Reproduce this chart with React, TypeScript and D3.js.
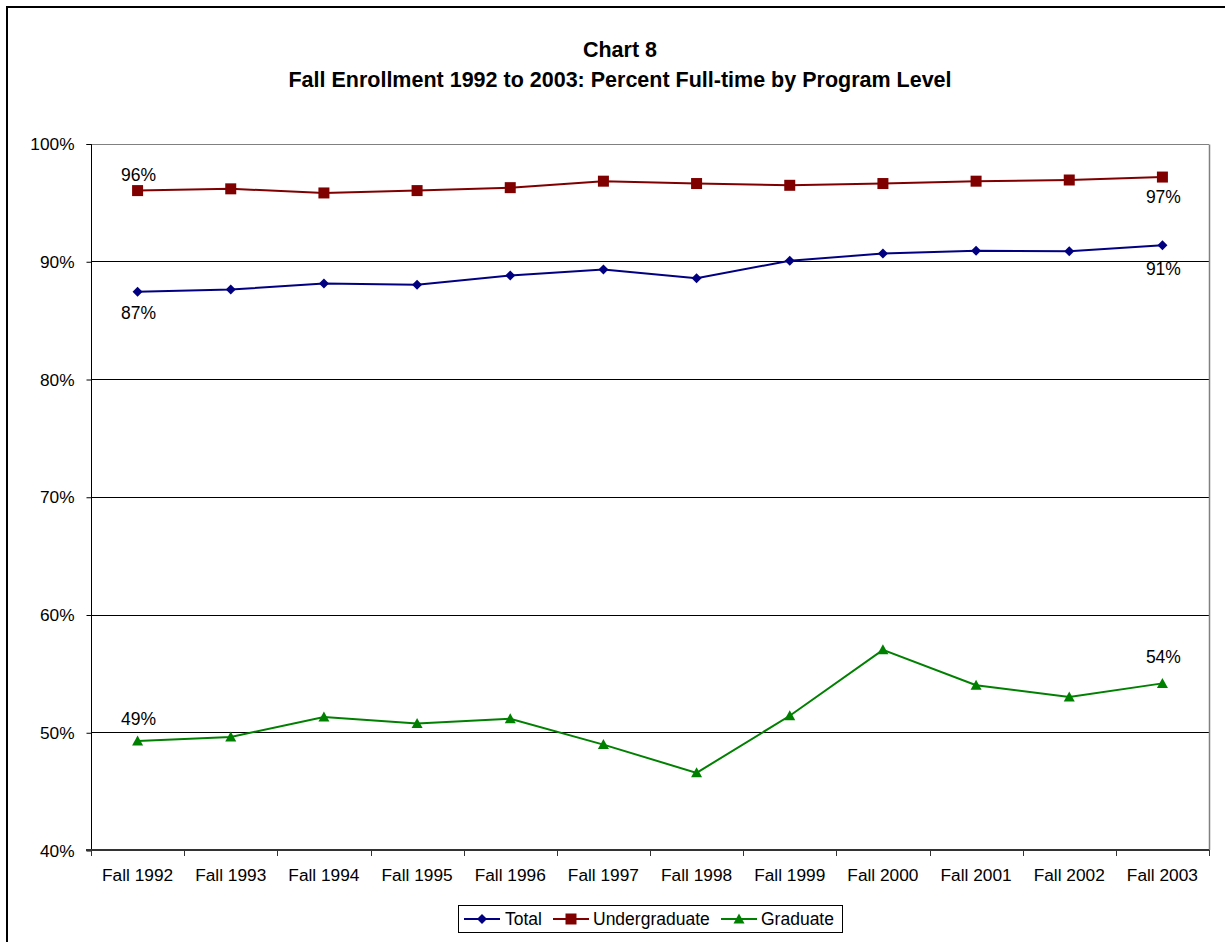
import React, { useEffect, useRef } from 'react';
import * as d3 from 'd3';

const years = ['Fall 1992', 'Fall 1993', 'Fall 1994', 'Fall 1995', 'Fall 1996', 'Fall 1997',
  'Fall 1998', 'Fall 1999', 'Fall 2000', 'Fall 2001', 'Fall 2002', 'Fall 2003'];
const total = [87.4, 87.6, 88.1, 88.0, 88.8, 89.3, 88.55, 90.05, 90.65, 90.9, 90.85, 91.35];
const undergrad = [96.0, 96.15, 95.8, 96.0, 96.25, 96.8, 96.6, 96.45, 96.6, 96.8, 96.9, 97.15];
const graduate = [49.25, 49.6, 51.3, 50.75, 51.15, 48.95, 46.55, 51.4, 57.0, 54.0, 53.0, 54.15];
const yTicks = [40, 50, 60, 70, 80, 90, 100];

const App = () => {
  const ref = useRef(null);

  useEffect(() => {
    const W = 1225;
    const H = 942;
    const left = 91, right = 1209, top = 143.5, bottom = 850;
    const font = 'Liberation Sans, Arial, sans-serif';

    const svg = d3.select(ref.current)
      .append('svg')
      .attr('width', W)
      .attr('height', H)
      .style('position', 'absolute')
      .style('left', 0)
      .style('top', 0)
      .style('font-family', font);

    svg.append('rect').attr('width', W).attr('height', H).attr('fill', '#fff');
    // outer chart border
    svg.append('rect')
      .attr('x', 7).attr('y', 7).attr('width', W + 20).attr('height', H + 20)
      .attr('fill', 'none').attr('stroke', '#000').attr('stroke-width', 2);

    // title
    svg.append('text').attr('x', 620).attr('y', 57).attr('text-anchor', 'middle')
      .attr('font-size', 21.5).attr('font-weight', 'bold').text('Chart 8');
    svg.append('text').attr('x', 620).attr('y', 87).attr('text-anchor', 'middle')
      .attr('font-size', 21.5).attr('font-weight', 'bold')
      .text('Fall Enrollment 1992 to 2003: Percent Full-time by Program Level');

    const x = d3.scaleBand().domain(years).range([left, right]).padding(0);
    const cx = (d) => x(d) + x.bandwidth() / 2;
    const y = d3.scaleLinear().domain([40, 100]).range([bottom, top]);

    // gridlines
    svg.append('g').selectAll('line').data(yTicks.filter(t => t > 40)).enter().append('line')
      .attr('x1', left).attr('x2', right)
      .attr('y1', d => Math.round(y(d)) + 0.5).attr('y2', d => Math.round(y(d)) + 0.5)
      .attr('stroke', d => d === 100 ? '#808080' : '#000').attr('stroke-width', 1);
    // right border of plot
    svg.append('line').attr('x1', right + 0.5).attr('x2', right + 0.5)
      .attr('y1', Math.round(top) + 0.5).attr('y2', bottom)
      .attr('stroke', '#808080').attr('stroke-width', 1.5);

    // y axis
    const yAxis = d3.axisLeft(y).tickValues(yTicks).tickSize(5).tickPadding(8)
      .tickFormat(d => `${d}%`);
    const gy = svg.append('g').attr('transform', `translate(${left + 0.5},0.5)`).call(yAxis);
    gy.select('.domain').attr('stroke', '#000').attr('d', `M-5,${Math.round(top)}H0V${bottom}`);
    gy.selectAll('.tick line').attr('stroke', '#000');
    gy.selectAll('text').attr('font-size', 17.3).attr('font-family', font).attr('fill', '#000')
      .attr('dx', -4);

    // x axis
    const gx = svg.append('g').attr('transform', `translate(0,${bottom})`);
    gx.append('line').attr('x1', left - 5).attr('x2', right).attr('y1', 0).attr('y2', 0)
      .attr('stroke', '#333').attr('stroke-width', 2);
    const bounds = years.map(d => x(d)).concat([right]);
    gx.selectAll('line.tk').data(bounds).enter().append('line').attr('class', 'tk')
      .attr('x1', d => Math.round(d) + 0.5).attr('x2', d => Math.round(d) + 0.5)
      .attr('y1', 0).attr('y2', 6).attr('stroke', '#333').attr('stroke-width', 1);
    gx.selectAll('text').data(years).enter().append('text')
      .attr('x', d => cx(d)).attr('y', 31).attr('text-anchor', 'middle')
      .attr('font-size', 17.3).text(d => d);

    const series = [
      { name: 'Total', values: total, color: '#000080', shape: 'diamond' },
      { name: 'Undergraduate', values: undergrad, color: '#800000', shape: 'square' },
      { name: 'Graduate', values: graduate, color: '#008000', shape: 'triangle' },
    ];

    const marker = (g, shape, color) => {
      if (shape === 'diamond') {
        g.append('path').attr('d', 'M0,-5L5,0L0,5L-5,0Z').attr('fill', color);
      } else if (shape === 'square') {
        g.append('rect').attr('x', -5.5).attr('y', -5.5).attr('width', 11).attr('height', 11)
          .attr('fill', color);
      } else {
        g.append('path').attr('d', 'M0,-5.5L5.5,4.5L-5.5,4.5Z').attr('fill', color);
      }
    };

    const line = d3.line().x((d, i) => cx(years[i])).y(d => y(d));

    series.forEach(s => {
      svg.append('path').datum(s.values).attr('d', line).attr('fill', 'none')
        .attr('stroke', s.color).attr('stroke-width', 2);
      s.values.forEach((v, i) => {
        const g = svg.append('g').attr('transform', `translate(${cx(years[i])},${y(v)})`);
        marker(g, s.shape, s.color);
      });
    });

    // data labels on first and last points
    const labels = [
      { v: undergrad[0], i: 0, dy: -10, text: '96%' },
      { v: undergrad[11], i: 11, dy: 26, text: '97%' },
      { v: total[0], i: 0, dy: 27, text: '87%' },
      { v: total[11], i: 11, dy: 30, text: '91%' },
      { v: graduate[0], i: 0, dy: -16, text: '49%' },
      { v: graduate[11], i: 11, dy: -20, text: '54%' },
    ];
    svg.append('g').selectAll('text').data(labels).enter().append('text')
      .attr('x', d => cx(years[d.i]) + 1).attr('y', d => y(d.v) + d.dy)
      .attr('text-anchor', 'middle').attr('font-size', 17.5).text(d => d.text);

    // legend
    const lg = svg.append('g');
    lg.append('rect').attr('x', 458.5).attr('y', 905.5).attr('width', 384).attr('height', 27)
      .attr('fill', '#fff').attr('stroke', '#000').attr('stroke-width', 1);
    const items = [
      { s: series[0], x0: 464, tx: 505 },
      { s: series[1], x0: 553, tx: 593 },
      { s: series[2], x0: 721, tx: 761 },
    ];
    items.forEach(it => {
      const ly = 919;
      lg.append('line').attr('x1', it.x0).attr('x2', it.x0 + 36).attr('y1', ly).attr('y2', ly)
        .attr('stroke', it.s.color).attr('stroke-width', 2);
      const g = lg.append('g').attr('transform', `translate(${it.x0 + 18},${ly})`);
      marker(g, it.s.shape, it.s.color);
      lg.append('text').attr('x', it.tx).attr('y', ly + 6).attr('font-size', 17.5)
        .text(it.s.name);
    });

    return () => {
      d3.select(ref.current).selectAll('*').remove();
    };
  }, []);

  return <div ref={ref}></div>;
};

export default App;
